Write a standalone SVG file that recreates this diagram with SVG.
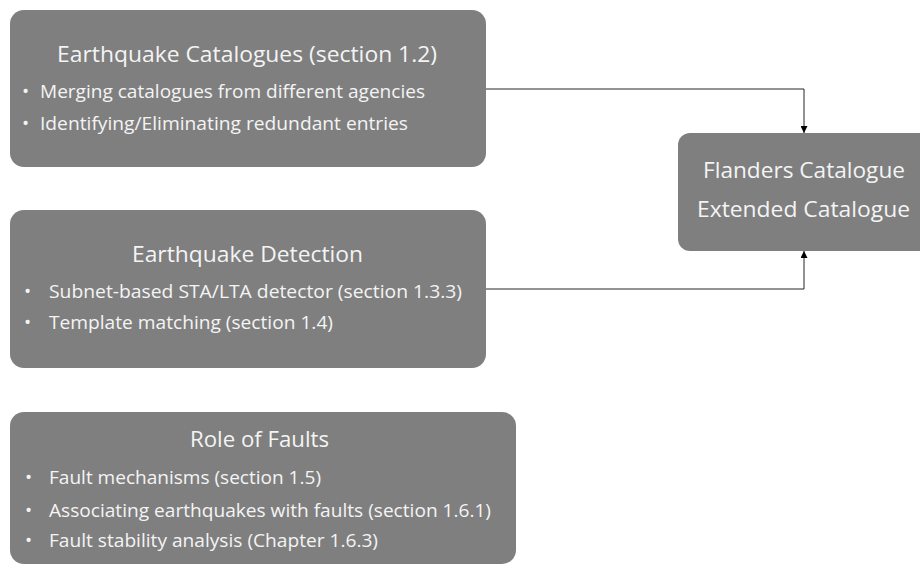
<svg xmlns="http://www.w3.org/2000/svg" width="920" height="565" viewBox="0 0 920 565">
<defs>
<style>
.box{fill:#7f7f7f;}
.t{font-family:"Open Sans","Noto Sans",sans-serif;fill:#f4f4f4;}
.h{font-size:21px;}
.b{font-size:19px;}
.c{fill:none;stroke:#262626;stroke-width:1;}
</style>
<marker id="ah" viewBox="0 0 10 10" refX="10" refY="5" markerWidth="7" markerHeight="7" orient="auto" markerUnits="userSpaceOnUse">
<path d="M0,0 L10,5 L0,10 z" fill="#000"/>
</marker>
</defs>
<rect width="920" height="565" fill="#fff"/>
<g id="connectors">
<path class="c" d="M486,89 H804 V133" marker-end="url(#ah)"/>
<path class="c" d="M486,289 H804 V251" marker-end="url(#ah)"/>
</g>
<g id="catalogues">
<rect class="box" x="10" y="10" width="476" height="157" rx="14"/>
<text class="t h" x="57" y="62" textLength="380" lengthAdjust="spacingAndGlyphs">Earthquake Catalogues (section 1.2)</text>
<text class="t b" x="22" y="98">•</text>
<text class="t b" x="40" y="98" textLength="385" lengthAdjust="spacingAndGlyphs">Merging catalogues from different agencies</text>
<text class="t b" x="22" y="130">•</text>
<text class="t b" x="40" y="130" textLength="368" lengthAdjust="spacingAndGlyphs">Identifying/Eliminating redundant entries</text>
</g>
<g id="detection">
<rect class="box" x="10" y="210" width="476" height="158" rx="14"/>
<text class="t h" x="132" y="262" textLength="231" lengthAdjust="spacingAndGlyphs">Earthquake Detection</text>
<text class="t b" x="24" y="298">•</text>
<text class="t b" x="49" y="298" textLength="413" lengthAdjust="spacingAndGlyphs">Subnet-based STA/LTA detector (section 1.3.3)</text>
<text class="t b" x="24" y="329">•</text>
<text class="t b" x="49" y="329" textLength="284" lengthAdjust="spacingAndGlyphs">Template matching (section 1.4)</text>
</g>
<g id="faults">
<rect class="box" x="10" y="412" width="506" height="152" rx="14"/>
<text class="t h" x="190" y="447" textLength="139" lengthAdjust="spacingAndGlyphs">Role of Faults</text>
<text class="t b" x="25" y="484">•</text>
<text class="t b" x="49" y="484" textLength="272" lengthAdjust="spacingAndGlyphs">Fault mechanisms (section 1.5)</text>
<text class="t b" x="25" y="517">•</text>
<text class="t b" x="49" y="517" textLength="442" lengthAdjust="spacingAndGlyphs">Associating earthquakes with faults (section 1.6.1)</text>
<text class="t b" x="25" y="547">•</text>
<text class="t b" x="49" y="547" textLength="329" lengthAdjust="spacingAndGlyphs">Fault stability analysis (Chapter 1.6.3)</text>
</g>
<g id="flanders">
<rect class="box" x="678" y="133" width="256" height="118" rx="12"/>
<text class="t h" x="703" y="178" textLength="202" lengthAdjust="spacingAndGlyphs">Flanders Catalogue</text>
<text class="t h" x="697" y="217" textLength="213" lengthAdjust="spacingAndGlyphs">Extended Catalogue</text>
</g>
</svg>
